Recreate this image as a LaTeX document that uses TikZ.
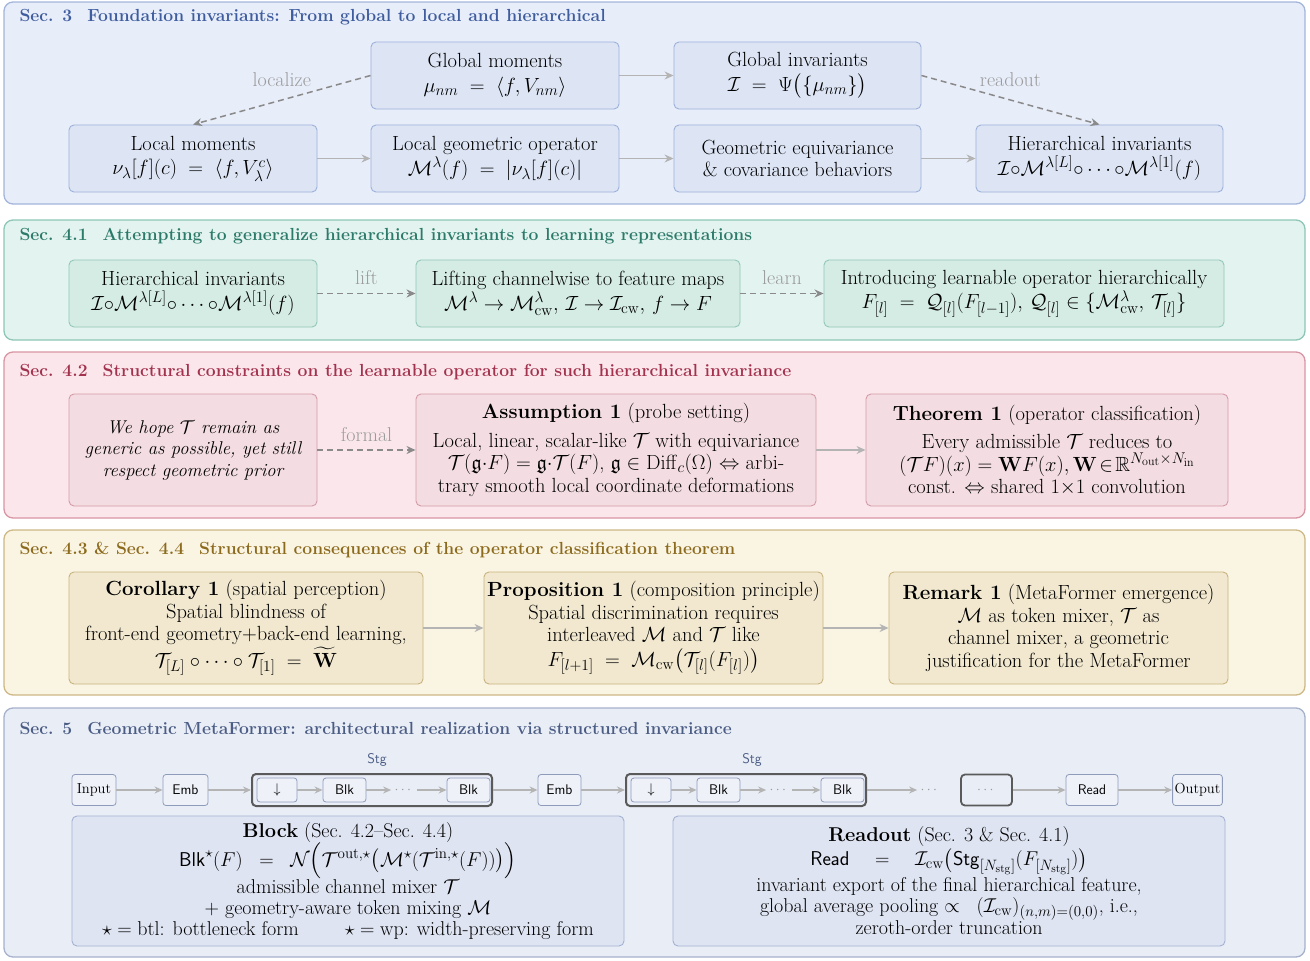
\RequirePackage{fix-cm}
\documentclass[tikz,border=0pt]{standalone}
\usepackage{amsmath,amssymb}
\usetikzlibrary{arrows.meta}
\DeclareMathSizes{20.5}{20.5}{15.5}{12}
\DeclareMathSizes{20}{20}{15}{11.5}
\DeclareMathSizes{18.5}{18.5}{14}{10.5}
\definecolor{p3fill}{HTML}{E7EDF9}\definecolor{p3draw}{HTML}{A3B5DB}\definecolor{p3title}{HTML}{3E5C9E}
\definecolor{b3fill}{HTML}{DDE5F5}\definecolor{b3draw}{HTML}{9DB1DA}
\definecolor{p41fill}{HTML}{E3F3EF}\definecolor{p41draw}{HTML}{8DC6B6}\definecolor{p41title}{HTML}{2C7A69}
\definecolor{b41fill}{HTML}{D5ECE5}\definecolor{b41draw}{HTML}{93C7B7}
\definecolor{p42fill}{HTML}{FBE7EB}\definecolor{p42draw}{HTML}{D895A3}\definecolor{p42title}{HTML}{A3324E}
\definecolor{b42fill}{HTML}{F3DDE2}\definecolor{b42draw}{HTML}{D59AA7}
\definecolor{p43fill}{HTML}{FAF4E3}\definecolor{p43draw}{HTML}{CDB886}\definecolor{p43title}{HTML}{8C6B1E}
\definecolor{b43fill}{HTML}{F1E8CF}\definecolor{b43draw}{HTML}{C9B47F}
\definecolor{p5fill}{HTML}{E9EDF6}\definecolor{p5draw}{HTML}{A6B1CC}\definecolor{p5title}{HTML}{4B5D85}
\definecolor{b5fill}{HTML}{DEE4F2}\definecolor{b5draw}{HTML}{A3B1D2}
\definecolor{sarrow}{HTML}{B4B4B4}\definecolor{darrow}{HTML}{8A8A8A}\definecolor{lblcol}{HTML}{9A9A9A}
\definecolor{stgdraw}{HTML}{5A5A5A}\definecolor{sboxdraw}{HTML}{8E9BBB}\definecolor{sboxfill}{HTML}{EEF1F8}
\tikzset{
  panel/.style={rounded corners=9pt, line width=1.3pt},
  ibox/.style={rounded corners=5pt, line width=0.9pt, align=center, inner sep=3pt},
  b3/.style={ibox, draw=b3draw, fill=b3fill},
  b41/.style={ibox, draw=b41draw, fill=b41fill},
  b42/.style={ibox, draw=b42draw, fill=b42fill},
  b43/.style={ibox, draw=b43draw, fill=b43fill},
  b5/.style={ibox, draw=b5draw, fill=b5fill},
  ttl/.style={anchor=west, font=\fontsize{17.5}{20}\selectfont\bfseries},
  sarr/.style={draw=sarrow, line width=1.3pt, -{Stealth[length=9pt,width=8pt]}},
  darr/.style={draw=darrow, line width=1.5pt, dash pattern=on 6pt off 4pt, -{Stealth[length=9pt,width=8pt]}},
  lbl/.style={text=lblcol, font=\fontsize{20}{22}\selectfont},
  sbox/.style={draw=sboxdraw, fill=sboxfill, rounded corners=3pt, line width=0.8pt, minimum height=31pt, inner sep=2pt, font=\fontsize{14}{16}\selectfont\sffamily},
  ibx/.style={sbox, minimum height=24pt},
  stgbox/.style={draw=stgdraw, line width=2pt, rounded corners=4pt, minimum height=32pt},
  parr/.style={draw=sarrow, line width=1.3pt, -{Stealth[length=8pt,width=7pt]}},
  dots/.style={text=lblcol, font=\fontsize{14}{16}\selectfont},
}
\begin{document}
\begin{tikzpicture}[x=1pt,y=-1pt, font=\fontsize{20.5}{22.5}\selectfont]
\useasboundingbox (0,0) rectangle (1310,961);
% panels
\draw[panel, draw=p3draw, fill=p3fill] (4,2) rectangle (1305,204);
\draw[panel, draw=p41draw, fill=p41fill] (4,220) rectangle (1305,340);
\draw[panel, draw=p42draw, fill=p42fill] (4,352) rectangle (1305,518);
\draw[panel, draw=p43draw, fill=p43fill] (4,530) rectangle (1305,695);
\draw[panel, draw=p5draw, fill=p5fill] (4,708) rectangle (1305,957);
% titles
\node[ttl, text=p3title] (t3) at (16,17) {Sec. 3\hspace{15pt}Foundation invariants: From global to local and hierarchical};
\node[ttl, text=p41title] (t41) at (16,236) {Sec. 4.1\hspace{15pt}Attempting to generalize hierarchical invariants to learning representations};
\node[ttl, text=p42title] (t42) at (16,372) {Sec. 4.2\hspace{15pt}Structural constraints on the learnable operator for such hierarchical invariance};
\node[ttl, text=p43title] (t43) at (16,550) {Sec. 4.3 \& Sec. 4.4\hspace{15pt}Structural consequences of the operator classification theorem};
\node[ttl, text=p5title] (t5) at (16,728) {Sec. 5\hspace{15pt}Geometric MetaFormer: architectural realization via structured invariance};

% Sec 3
\node[b3, minimum width=248pt, minimum height=67pt] (gm) at (495,75.5) {Global moments\\[2pt] $\mu_{nm} \;=\; \langle f, V_{nm}\rangle$};
\node[b3, minimum width=247pt, minimum height=67pt] (gi) at (797.5,75.5) {Global invariants\\[2pt] $\mathcal{I} \;=\; \Psi\big(\{\mu_{nm}\}\big)$};
\node[b3, minimum width=248pt, minimum height=67pt] (lm) at (193,158.5) {Local moments\\[2pt] $\nu_\lambda[f](c) \;=\; \langle f, V^{c}_{\lambda}\rangle$};
\node[b3, minimum width=248pt, minimum height=67pt] (lg) at (495,158.5) {Local geometric operator\\[2pt] $\mathcal{M}^{\lambda}(f) \;=\; |\nu_\lambda[f](c)|$};
\node[b3, minimum width=247pt, minimum height=67pt] (ge) at (797.5,158.5) {Geometric equivariance\\ \& covariance behaviors};
\node[b3, minimum width=247pt, minimum height=67pt] (hi) at (1099.5,158.5) {Hierarchical invariants\\[2pt] $\mathcal{I}{\circ}\mathcal{M}^{\lambda[L]}{\circ}\cdots{\circ}\mathcal{M}^{\lambda[1]}(f)$};
\draw[sarr] (gm) -- (gi);
\draw[sarr] (lm) -- (lg);
\draw[sarr] (lg) -- (ge);
\draw[sarr] (ge) -- (hi);
\draw[darr] (gm.west) -- node[lbl, pos=0.5, yshift=20pt] {localize} (lm.north);
\draw[darr] (gi.east) -- node[lbl, pos=0.5, yshift=20pt] {readout} (hi.north);

% Sec 4.1
\node[b41, minimum width=248pt, minimum height=67pt] (hi2) at (193,293.5) {Hierarchical invariants\\[2pt] $\mathcal{I}{\circ}\mathcal{M}^{\lambda[L]}{\circ}\cdots{\circ}\mathcal{M}^{\lambda[1]}(f)$};
\node[b41, minimum width=324pt, minimum height=67pt] (lift) at (578,293.5) {Lifting channelwise to feature maps\\[2pt] $\mathcal{M}^{\lambda}\to\mathcal{M}^{\lambda}_{\mathrm{cw}},\, \mathcal{I}\to\mathcal{I}_{\mathrm{cw}},\, f\to F$};
\node[b41, minimum width=400pt, minimum height=67pt] (intro) at (1024,293.5) {Introducing learnable operator hierarchically\\[2pt] $F_{[l]} \;=\; \mathcal{Q}_{[l]}(F_{[l-1]}),\, \mathcal{Q}_{[l]} \in \{\mathcal{M}^{\lambda}_{\mathrm{cw}},\, \mathcal{T}_{[l]}\}$};
\draw[darr] (hi2) -- node[lbl, pos=0.5, yshift=16pt] {lift} (lift);
\draw[darr] (lift) -- node[lbl, pos=0.5, yshift=16pt] {learn} (intro);

% Sec 4.2
\node[b42, minimum width=248pt, minimum height=112pt, font=\fontsize{18.5}{21.5}\selectfont\itshape] (hope) at (193,450) {We hope $\mathcal{T}$ remain as\\ generic as possible, yet still\\ respect geometric prior};
\node[b42, minimum width=400pt, minimum height=112pt] (assm) at (616,450) {\textbf{Assumption 1} (probe setting)\\[6pt] Local, linear, scalar-like $\mathcal{T}$ with equivariance\\ $\mathcal{T}(\mathfrak{g}{\cdot}F) = \mathfrak{g}{\cdot}\mathcal{T}(F)$, $\mathfrak{g}\in\mathrm{Diff}_c(\Omega)$ $\Leftrightarrow$ arbi-\\ trary smooth local coordinate deformations};
\node[b42, minimum width=362pt, minimum height=112pt] (thm) at (1047,450) {\textbf{Theorem 1} (operator classification)\\[6pt] Every admissible $\mathcal{T}$ reduces to\\ $(\mathcal{T}F)(x) = \mathbf{W}F(x), \mathbf{W}\!\in\!\mathbb{R}^{N_{\mathrm{out}}\times N_{\mathrm{in}}}$\\ const. $\Leftrightarrow$ shared $1{\times}1$ convolution};
\draw[darr] (hope) -- node[lbl, pos=0.5, yshift=15pt] {formal} (assm);
\draw[sarr] (assm) -- (thm);

% Sec 4.3
\node[b43, minimum width=354pt, minimum height=112pt] (cor) at (246,628) {\textbf{Corollary 1} (spatial perception)\\ Spatial blindness of\\ front-end geometry+back-end learning,\\[1pt] $\mathcal{T}_{[L]}\circ\cdots\circ\mathcal{T}_{[1]} \;=\; \widetilde{\mathbf{W}}$};
\node[b43, minimum width=339pt, minimum height=112pt] (prop) at (653.5,628) {\textbf{Proposition 1} (composition principle)\\ Spatial discrimination requires\\ interleaved $\mathcal{M}$ and $\mathcal{T}$ like\\[2pt] $F_{[l+1]} \;=\; \mathcal{M}_{\mathrm{cw}}\big(\mathcal{T}_{[l]}(F_{[l]})\big)$};
\node[b43, minimum width=339pt, minimum height=112pt] (rem) at (1058.5,628) {\textbf{Remark 1} (MetaFormer emergence)\\ $\mathcal{M}$ as token mixer, $\mathcal{T}$ as\\ channel mixer, a geometric\\ justification for the MetaFormer};
\draw[sarr] (cor) -- (prop);
\draw[sarr] (prop) -- (rem);

% Sec 5 pipeline
\node[sbox, minimum width=44pt, font=\fontsize{14.5}{16}\selectfont] (inp) at (94,790) {Input};
\node[sbox, minimum width=45pt] (emb1) at (185.5,790) {Emb};
\node[stgbox, minimum width=240pt] (stg1) at (372,790) {};
\node[ibx, minimum width=40pt, font=\fontsize{14}{16}\selectfont] (dn1) at (277,790) {$\downarrow$};
\node[ibx, minimum width=43pt] (blk1a) at (344.5,790) {Blk};
\node[dots] (dd1) at (404,790) {$\cdots$};
\node[ibx, minimum width=43pt] (blk1b) at (468.5,790) {Blk};
\node[text=p5title, font=\fontsize{14}{16}\selectfont\sffamily] (stgl1) at (377,760) {Stg};
\node[sbox, minimum width=43pt] (emb2) at (559.5,790) {Emb};
\node[stgbox, minimum width=240pt] (stg2) at (746,790) {};
\node[ibx, minimum width=40pt, font=\fontsize{14}{16}\selectfont] (dn2) at (651,790) {$\downarrow$};
\node[ibx, minimum width=43pt] (blk2a) at (718.5,790) {Blk};
\node[dots] (dd2) at (779,790) {$\cdots$};
\node[ibx, minimum width=43pt] (blk2b) at (842.5,790) {Blk};
\node[text=p5title, font=\fontsize{14}{16}\selectfont\sffamily] (stgl2) at (752,760) {Stg};
\node[dots] (dd3) at (930,790) {$\cdots$};
\node[stgbox, line width=1.8pt, minimum width=51pt, minimum height=31pt, dots] (dbox) at (986.5,790) {$\cdots$};
\node[sbox, minimum width=52pt] (rd) at (1092,790) {Read};
\node[sbox, minimum width=49pt, font=\fontsize{14.5}{16}\selectfont] (outp) at (1197.5,790) {Output};
\draw[parr] (inp) -- (emb1);
\draw[parr] (emb1) -- (stg1);
\draw[parr] (dn1) -- (blk1a);
\draw[parr] (blk1a) -- (dd1);
\draw[parr] (dd1) -- (blk1b);
\draw[parr] (stg1) -- (emb2);
\draw[parr] (emb2) -- (stg2);
\draw[parr] (dn2) -- (blk2a);
\draw[parr] (blk2a) -- (dd2);
\draw[parr] (dd2) -- (blk2b);
\draw[parr] (stg2) -- (dd3);
\draw[parr] (dbox) -- (rd);
\draw[parr] (rd) -- (outp);

% Block and Readout
\node[b5, minimum width=552pt, minimum height=130pt, font=\fontsize{20}{21}\selectfont] (blk) at (348,881) {\textbf{Block} (Sec. 4.2--Sec. 4.4)\\ $\mathsf{Blk}^{\star}(F) \;\;=\;\; \mathcal{N}\Big(\mathcal{T}^{\mathrm{out},\star}\big(\mathcal{M}^{\star}(\mathcal{T}^{\mathrm{in},\star}(F))\big)\Big)$\\ admissible channel mixer $\mathcal{T}$\\ $+$ geometry-aware token mixing $\mathcal{M}$\\ $\star = \text{btl}$: bottleneck form \qquad $\star = \text{wp}$: width-preserving form};
\node[b5, minimum width=552pt, minimum height=130pt, font=\fontsize{20}{21}\selectfont] (ro) at (949,881) {\textbf{Readout} (Sec. 3 \& Sec. 4.1)\\[1pt] $\mathsf{Read} \quad=\quad \mathcal{I}_{\mathrm{cw}}\big(\mathsf{Stg}_{[N_{\mathrm{stg}}]}(F_{[N_{\mathrm{stg}}]})\big)$\\[1pt] invariant export of the final hierarchical feature,\\ global average pooling $\propto\;\; (\mathcal{I}_{\mathrm{cw}})_{(n,m)=(0,0)}$, i.e.,\\ zeroth-order truncation};
\end{tikzpicture}
\end{document}
